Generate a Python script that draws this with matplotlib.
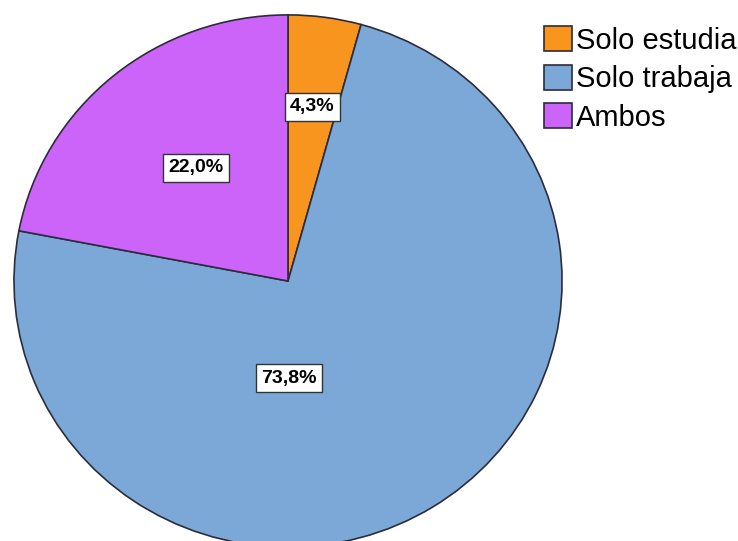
"""Pie chart: actividad de los encuestados."""

import matplotlib.pyplot as plt

categories = ["Solo estudia", "Solo trabaja", "Ambos"]
percents = [4.3, 73.8, 22.0]
colors = ["#f7951f", "#7ba8d6", "#cc64fa"]
# where each percentage box sits, in pie-radius units
label_pos = [(0.088, 0.654), (0.002, -0.365), (-0.336, 0.425)]

plt.rcParams["font.family"] = ["Liberation Sans", "DejaVu Sans"]

fig = plt.figure(figsize=(7.38, 5.41), dpi=100)
ax = fig.add_axes([0, 0, 1, 1])

wedges, _ = ax.pie(
    percents,
    colors=colors,
    startangle=90,
    counterclock=False,
    wedgeprops=dict(edgecolor="#2c2c3c", linewidth=1.2),
)

# the pie is stretched a little wider than tall
ax.set_aspect("auto")
ax.set_xlim(-1.051, 1.642)
ax.set_ylim(-0.977, 1.056)
ax.axis("off")

for value, (x, y) in zip(percents, label_pos):
    ax.text(
        x, y, f"{value:.1f}%".replace(".", ","),
        ha="center", va="center", fontsize=14, fontweight="bold",
        bbox=dict(boxstyle="square,pad=0.27", facecolor="white",
                  edgecolor="#333333", linewidth=1.0),
    )

leg = fig.legend(
    wedges, categories,
    loc="upper left", bbox_to_anchor=(544 / 738, 1 - 26 / 541),
    frameon=False, fontsize=21,
    handlelength=0.95, handleheight=0.95, handletextpad=0.15,
    labelspacing=0.34, borderpad=0, borderaxespad=0,
)

plt.savefig("out.png", dpi=100)
